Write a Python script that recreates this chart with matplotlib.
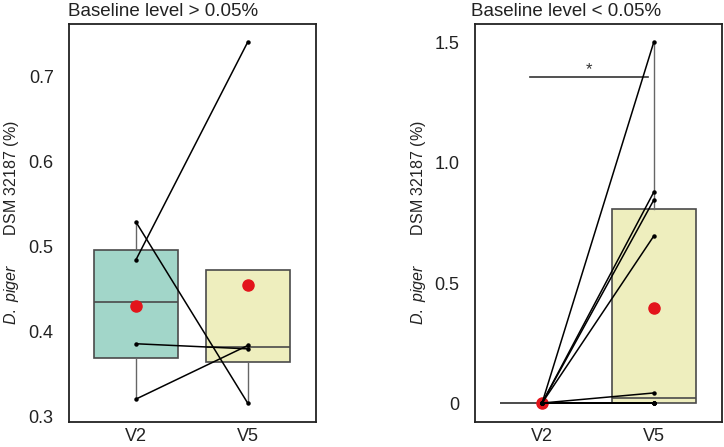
import matplotlib
matplotlib.use("Agg")
import matplotlib.pyplot as plt
import numpy as np

plt.rcParams['font.family'] = ['Liberation Sans', 'DejaVu Sans']
plt.rcParams['mathtext.fontset'] = 'custom'
plt.rcParams['mathtext.rm'] = 'Liberation Sans'
plt.rcParams['mathtext.it'] = 'Liberation Sans:italic'

# ---- data ----
categories = ["V2", "V5"]

# Panel 1: baseline level > 0.05% (paired samples, same order)
high_v2 = [0.485, 0.529, 0.386, 0.321]
high_v5 = [0.741, 0.316, 0.380, 0.384]

# Panel 2: baseline level < 0.05%
low_v2 = [0.0, 0.0, 0.0, 0.0, 0.0, 0.0, 0.0, 0.0, 0.0, 0.0]
low_v5 = [1.504, 0.879, 0.846, 0.696, 0.042, 0.0, 0.0, 0.0, 0.0, 0.0]

titles = ["Baseline level > 0.05%", "Baseline level < 0.05%"]
ylabel = r"$\mathit{D.\ piger}$" + "       DSM 32187 (%)"

high_yticks = [0.3, 0.4, 0.5, 0.6, 0.7]
high_yticklabels = ["0.3", "0.4", "0.5", "0.6", "0.7"]
low_yticks = [0.0, 0.5, 1.0, 1.5]
low_yticklabels = ["0", "0.5", "1.0", "1.5"]

sig_label = "*"

box_colors = ["#a2d6c9", "#eeeebe"]
edge = "#4a4a4a"

W, H = 724, 447
fig = plt.figure(figsize=(W / 100, H / 100), dpi=100)

def px_axes(x0, x1, y0, y1):
    return fig.add_axes([x0 / W, 1 - y1 / H, (x1 - x0) / W, (y1 - y0) / H])

ax1 = px_axes(69, 316, 24, 422)
ax2 = px_axes(475, 722, 24, 422)

def draw_panel(ax, v2, v5, ylim, yticks, yticklabels, title, title_x, label_x):
    data = [v2, v5]
    pos = [1, 2]
    bp = ax.boxplot(data, positions=pos, widths=0.75, patch_artist=True,
                    showfliers=False, showcaps=False, whis=1.5,
                    medianprops=dict(color=edge, linewidth=1.2),
                    whiskerprops=dict(color="#666666", linewidth=1.0),
                    boxprops=dict(edgecolor=edge, linewidth=1.2),
                    zorder=1)
    for patch, c in zip(bp['boxes'], box_colors):
        patch.set_facecolor(c)
    # means
    means = [np.mean(v2), np.mean(v5)]
    ax.plot(pos, means, linestyle="none", marker="o", markersize=8,
            color="#e3141b", zorder=3)
    # paired lines
    for a, b in zip(v2, v5):
        ax.plot(pos, [a, b], color="black", linewidth=1.1, zorder=4,
                marker="o", markersize=2.2)
    ax.set_xlim(0.4, 2.61)
    ax.set_ylim(*ylim)
    ax.set_xticks(pos)
    ax.set_xticklabels(categories, fontsize=13)
    ax.set_yticks(yticks)
    ax.set_yticklabels(yticklabels, fontsize=13)
    ax.tick_params(axis="both", length=0, colors="#222222")
    ax.tick_params(axis="x", pad=4)
    ax.tick_params(axis="y", pad=11)
    for s in ax.spines.values():
        s.set_linewidth(1.3)
        s.set_color("#222222")
    ax.set_ylabel(ylabel, fontsize=11.5, color="#222222")
    ax.yaxis.set_label_coords(label_x, 0.5)
    fig.text(title_x / W, 1 - 11 / H, title, fontsize=13.5, ha="left",
             va="center", color="#222222")

draw_panel(ax1, high_v2, high_v5, (0.294, 0.762), high_yticks,
           high_yticklabels, titles[0], 68, -0.196)
draw_panel(ax2, low_v2, low_v5, (-0.079, 1.579), low_yticks,
           low_yticklabels, titles[1], 471, -0.19)

# significance bracket
ax2.plot([0.89, 1.95], [1.358, 1.358], color="#333333", linewidth=1.2, zorder=2)
ax2.text(1.42, 1.39, sig_label, ha="center", va="center", fontsize=12,
         color="#333333")

fig.savefig("out.png", dpi=100)
